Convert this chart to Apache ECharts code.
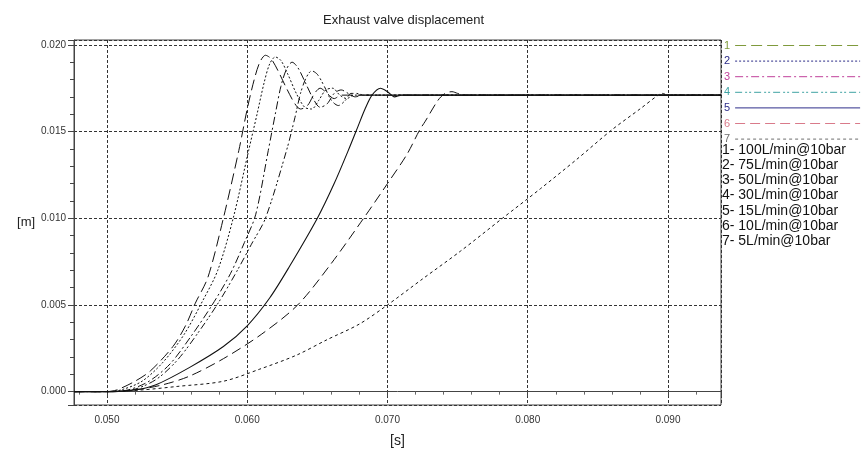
<!DOCTYPE html>
<html>
<head>
<meta charset="utf-8">
<title>Exhaust valve displacement</title>
<script src="https://cdn.jsdelivr.net/npm/echarts@6/dist/echarts.min.js"></script>
<style>
  html, body { margin: 0; padding: 0; background: #fff; }
  #main { width: 864px; height: 451px; }
</style>
</head>
<body>
<div id="main"></div>
<script>
// time [s], displacement [m]
let flow100 = [[0.0477, 0], [0.0500, 0], [0.0507, 0.0001], [0.0520, 0.0006], [0.0531, 0.0012], [0.0547, 0.0026], [0.0556, 0.0038], [0.0563, 0.0051], [0.0572, 0.0066], [0.0583, 0.0100], [0.0594, 0.0139], [0.0600, 0.0163], [0.0605, 0.0180], [0.0609, 0.0190], [0.0613, 0.0194], [0.0617, 0.0192], [0.0622, 0.0185], [0.0628, 0.0175], [0.0634, 0.0166], [0.0638, 0.0163], [0.0643, 0.0165], [0.0648, 0.0172], [0.0652, 0.0175], [0.0657, 0.0172], [0.0662, 0.0169], [0.0667, 0.0171], [0.0938, 0.0171]]
let flow75 = [[0.0477, 0], [0.0500, 0], [0.0510, 0.0001], [0.0525, 0.0006], [0.0540, 0.0017], [0.0555, 0.0033], [0.0568, 0.0052], [0.0579, 0.0070], [0.0590, 0.0100], [0.0601, 0.0139], [0.0607, 0.0160], [0.0612, 0.0178], [0.0616, 0.0189], [0.0620, 0.0193], [0.0624, 0.0191], [0.0629, 0.0183], [0.0635, 0.0172], [0.0641, 0.0164], [0.0646, 0.0163], [0.0651, 0.0168], [0.0656, 0.0174], [0.0661, 0.0175], [0.0666, 0.0171], [0.0671, 0.0169], [0.0676, 0.0171], [0.0938, 0.0171]]
let flow50 = [[0.0477, 0], [0.0500, 0], [0.0515, 0.0001], [0.0530, 0.0006], [0.0545, 0.0016], [0.0560, 0.0032], [0.0575, 0.0050], [0.0588, 0.0068], [0.0598, 0.0086], [0.0606, 0.0102], [0.0615, 0.0139], [0.0620, 0.0160], [0.0624, 0.0176], [0.0628, 0.0186], [0.0632, 0.0190], [0.0636, 0.0187], [0.0641, 0.0179], [0.0647, 0.0169], [0.0652, 0.0164], [0.0657, 0.0166], [0.0662, 0.0172], [0.0667, 0.0174], [0.0672, 0.0172], [0.0677, 0.0170], [0.0682, 0.0171], [0.0938, 0.0171]]
let flow30 = [[0.0477, 0], [0.0500, 0], [0.0518, 0.0001], [0.0535, 0.0007], [0.0550, 0.0018], [0.0565, 0.0034], [0.0580, 0.0052], [0.0593, 0.0070], [0.0603, 0.0085], [0.0613, 0.0100], [0.0628, 0.0139], [0.0634, 0.0158], [0.0638, 0.0172], [0.0642, 0.0181], [0.0646, 0.0185], [0.0650, 0.0183], [0.0655, 0.0176], [0.0660, 0.0168], [0.0665, 0.0165], [0.0670, 0.0168], [0.0674, 0.0172], [0.0678, 0.0172], [0.0683, 0.0171], [0.0938, 0.0171]]
let flow15 = [[0.0477, 0], [0.0500, 0], [0.0520, 0.0001], [0.0535, 0.0004], [0.0559, 0.0014], [0.0583, 0.0026], [0.0600, 0.0038], [0.0616, 0.0054], [0.0630, 0.0072], [0.0650, 0.0100], [0.0662, 0.0120], [0.0672, 0.0139], [0.0679, 0.0153], [0.0684, 0.0163], [0.0689, 0.0171], [0.0695, 0.0175], [0.0700, 0.0173], [0.0705, 0.0170], [0.0710, 0.0171], [0.0938, 0.0171]]
let flow10 = [[0.0477, 0], [0.0500, 0], [0.0520, 0.0001], [0.0540, 0.0004], [0.0559, 0.0009], [0.0583, 0.0019], [0.0610, 0.0033], [0.0636, 0.0050], [0.0660, 0.0074], [0.0683, 0.0100], [0.0700, 0.0120], [0.0714, 0.0137], [0.0723, 0.0151], [0.0727, 0.0156], [0.0736, 0.0168], [0.0741, 0.0172], [0.0746, 0.0173], [0.0750, 0.0172], [0.0754, 0.0171], [0.0938, 0.0171]]
let flow5 = [[0.0477, 0], [0.0500, 0], [0.0525, 0.0001], [0.0550, 0.0003], [0.0583, 0.0006], [0.0609, 0.0013], [0.0635, 0.0021], [0.0657, 0.0030], [0.0680, 0.0039], [0.0700, 0.0050], [0.0725, 0.0065], [0.0752, 0.0081], [0.0782, 0.0100], [0.0809, 0.0117], [0.0835, 0.0134], [0.0860, 0.0151], [0.0880, 0.0163], [0.0893, 0.0171], [0.0896, 0.0172], [0.0900, 0.0171], [0.0938, 0.0171]]

let seriesNames = ['1', '2', '3', '4', '5', '6', '7']
let legendLabels = ['1- 100L/min@10bar', '2- 75L/min@10bar', '3- 50L/min@10bar', '4- 30L/min@10bar', '5- 15L/min@10bar', '6- 10L/min@10bar', '7- 5L/min@10bar']
let allData = [flow100, flow75, flow50, flow30, flow15, flow10, flow5]

// dash patterns of the curves (plot is drawn in black)
let dashes = [[11, 5], [2, 2], [8, 3, 2, 3], [7, 3, 2, 2, 2, 3], 'solid', [10, 5], [3, 3]]
// legend swatch colours
let legendColors = ['#7f9a3c', '#2a2a86', '#c0409a', '#3fa3a3', '#2e2e8a', '#d97a8a', '#6e6e6e']

let font = 'Liberation Sans, Arial, sans-serif'

let chartDom = document.getElementById('main')
let myChart = echarts.init(chartDom)

let series = allData.map((d, i) => ({
  name: seriesNames[i],
  type: 'line',
  data: d,
  symbol: 'none',
  smooth: 0.3,
  animation: false,
  lineStyle: { color: '#111', width: i === 4 ? 1.1 : 1, type: dashes[i] }
}))

let legendData = seriesNames.map((n, i) => ({
  name: n,
  textStyle: { color: legendColors[i] },
  lineStyle: { color: legendColors[i], type: dashes[i], width: 1 },
  itemStyle: { color: 'rgba(0,0,0,0)', borderWidth: 0, opacity: 0 }
}))

let option = {
  animation: false,
  title: {
    text: 'Exhaust valve displacement',
    left: 318,
    top: 9,
    textStyle: { fontSize: 13, fontWeight: 'normal', color: '#222', fontFamily: font }
  },
  legend: {
    orient: 'vertical',
    left: 724,
    top: 40,
    padding: 0,
    itemWidth: 125,
    itemHeight: 10,
    itemGap: 4.6,
    align: 'right',
    selectedMode: false,
    textStyle: { fontSize: 11, fontFamily: font },
    data: legendData
  },
  grid: {
    left: 74,
    right: 143,
    top: 40,
    bottom: 46,
    outerBoundsMode: 'none',
    containLabel: false,
    show: true,
    borderColor: '#444',
    borderWidth: 1
  },
  xAxis: {
    type: 'value',
    min: 0.04765,
    max: 0.09378,
    splitNumber: 5,
    name: '[s]',
    nameLocation: 'middle',
    nameGap: 29,
    nameTextStyle: { fontSize: 14, color: '#222', fontFamily: font },
    axisLine: { lineStyle: { color: '#444' } },
    axisTick: { length: 5, lineStyle: { color: '#444' } },
    minorTick: { show: true, splitNumber: 5, length: 3, lineStyle: { color: '#666' } },
    axisLabel: {
      showMinLabel: false,
      showMaxLabel: false,
      margin: 10,
      fontSize: 10,
      color: '#333',
      fontFamily: font,
      formatter: v => v.toFixed(3)
    },
    splitLine: { show: true, lineStyle: { color: '#333', type: [3, 2], width: 1 } }
  },
  yAxis: {
    type: 'value',
    min: -0.00077,
    max: 0.02028,
    splitNumber: 4,
    name: '[m]',
    nameLocation: 'middle',
    nameRotate: 0,
    nameGap: 29,
    nameTextStyle: { fontSize: 13, color: '#222', fontFamily: font },
    axisLine: { show: true, lineStyle: { color: '#444' } },
    axisTick: { show: true, length: 6, lineStyle: { color: '#444' } },
    minorTick: { show: true, splitNumber: 5, length: 4, lineStyle: { color: '#444' } },
    axisLabel: {
      showMinLabel: false,
      showMaxLabel: false,
      margin: 8,
      fontSize: 10,
      color: '#333',
      fontFamily: font,
      formatter: v => v.toFixed(3)
    },
    splitLine: { show: true, lineStyle: { color: '#333', type: [3, 2], width: 1 } }
  },
  graphic: legendLabels.map((t, i) => ({
    type: 'text',
    left: 722,
    top: 143 + i * 15.2,
    style: { text: t, fontSize: 14, fill: '#111', fontFamily: font }
  })),
  series: series
}

myChart.setOption(option)
</script>
</body>
</html>
